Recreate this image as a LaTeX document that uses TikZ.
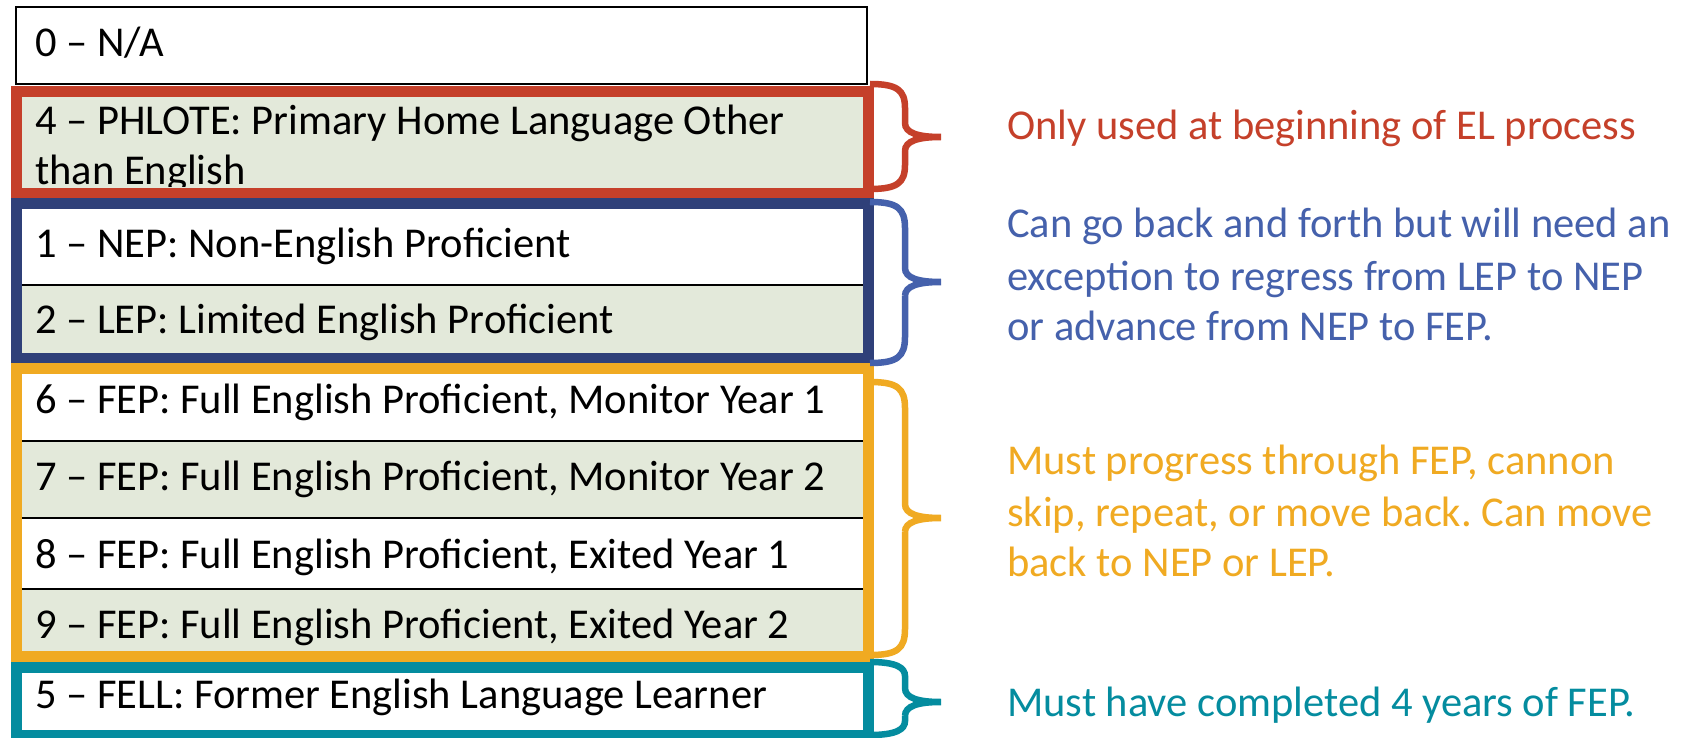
\documentclass[tikz,border=0pt]{standalone}
\usepackage{fontspec}
\setmainfont{Carlito}
\frenchspacing
\definecolor{redc}{HTML}{C5402A}
\definecolor{navyc}{HTML}{2F4079}
\definecolor{bluec}{HTML}{4561AC}
\definecolor{orangec}{HTML}{F0AA22}
\definecolor{tealc}{HTML}{048C9F}
\definecolor{greenfill}{HTML}{E3E9DA}
\begin{document}
\begin{tikzpicture}[x=1pt,y=-1pt,
  rowtext/.style={anchor=base west,inner sep=0pt,font=\fontsize{42.5}{51}\selectfont},
  note/.style={anchor=base west,inner sep=0pt,font=\fontsize{42.5}{51}\selectfont},
  groupbox/.style={line width=11pt},
  brace/.style={line width=6.5pt},
  sepline/.style={line width=2.5pt,black}]
\useasboundingbox (0,0) rectangle (1689,738);
\fill[white] (0,0) rectangle (1689,738);
% row fills
\fill[greenfill] (16,86) rectangle (868,199);
\fill[greenfill] (16,285) rectangle (868,358);
\fill[greenfill] (16,441) rectangle (868,518);
\fill[greenfill] (16,589) rectangle (868,656);
% top row
\draw[line width=2pt] (15.5,7.5) rectangle (867,84.5);
% separators
\foreach \yy in {208,285,441,518,589} \draw[sepline] (16,\yy) -- (868,\yy);
% texts
\node[rowtext] (t0) at (35,57) {0 – N/A};
\node[rowtext] (t4a) at (35,135) {4 – PHLOTE: Primary Home Language Other};
\begin{scope}
\clip (16,140) rectangle (868,187);
\node[rowtext] (t4b) at (35,185) {than English};
\end{scope}
\node[rowtext] (t1) at (35,257) {1 – NEP: Non-English Proficient};
\node[rowtext] (t2) at (35,333) {2 – LEP: Limited English Proficient};
\node[rowtext] (t6) at (35,413) {6 – FEP: Full English Proficient, Monitor Year 1};
\node[rowtext] (t7) at (35,490) {7 – FEP: Full English Proficient, Monitor Year 2};
\node[rowtext] (t8) at (35,568) {8 – FEP: Full English Proficient, Exited Year 1};
\node[rowtext] (t9) at (35,638) {9 – FEP: Full English Proficient, Exited Year 2};
\node[rowtext] (t5) at (35,708) {5 – FELL: Former English Language Learner};
% group borders
\draw[groupbox,redc] (16,91.5) rectangle (868,193.5);
\draw[groupbox,navyc] (16,204) rectangle (868,358);
\draw[groupbox,orangec] (16,368) rectangle (868,656);
\draw[groupbox,tealc] (16,667) rectangle (868,735);
% braces
\newcommand{\mybrace}[5]{% color, top, tip, bottom, radius
  \draw[brace,#1] (870,#2) .. controls (897,#2) and (905,#2+6) .. (905,#2+#5)
    -- (905,#3-14) .. controls (905,#3-4) and (918,#3) .. (941,#3)
    (905,#3+14) .. controls (905,#3+4) and (918,#3) .. (941,#3)
    (905,#3+14) -- (905,#4-#5) .. controls (905,#4-6) and (897,#4) .. (870,#4);}
\mybrace{redc}{84}{137}{189}{24}
\mybrace{bluec}{202}{282}{363}{26}
\mybrace{orangec}{382}{518}{655}{26}
\mybrace{tealc}{662}{702}{735}{14}
% notes
\node[note,redc] (n1) at (1007,140) {Only used at beginning of EL process};
\node[note,bluec] (n2a) at (1007,237) {Can go back and forth but will need an};
\node[note,bluec] (n2b) at (1007,290) {exception to regress from LEP to NEP};
\node[note,bluec] (n2c) at (1007,340) {or advance from NEP to FEP.};
\node[note,orangec] (n3a) at (1007,474) {Must progress through FEP, cannon};
\node[note,orangec] (n3b) at (1007,526) {skip, repeat, or move back. Can move};
\node[note,orangec] (n3c) at (1007,576) {back to NEP or LEP.};
\node[note,tealc] (n4) at (1007,716) {Must have completed 4 years of FEP.};
\end{tikzpicture}
\end{document}
